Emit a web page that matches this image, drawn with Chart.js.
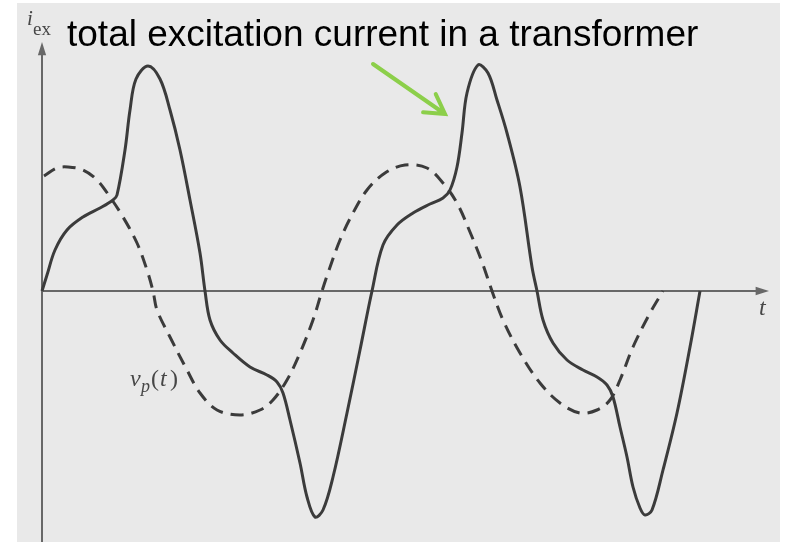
<!DOCTYPE html>
<html>
<head>
<meta charset="utf-8">
<script src="https://cdn.jsdelivr.net/npm/chart.js@4.4.0/dist/chart.umd.min.js"></script>
<style>
  html, body { margin: 0; padding: 0; background: #ffffff; }
  canvas { display: block; }
</style>
</head>
<body>
<canvas id="myChart" width="786" height="549"></canvas>
<script>
// total excitation current i_ex(t) (solid) and primary voltage v_p(t) (dashed)
var iexT = [0, 0.05, 0.13, 0.25, 0.41, 0.58, 0.71, 0.75, 0.83, 0.88, 0.94, 1.06, 1.18, 1.28, 1.38, 1.48, 1.58, 1.63,
  1.68, 1.78, 1.91, 2.08, 2.25, 2.35, 2.41, 2.48, 2.58, 2.65, 2.73, 2.81, 2.91, 3.05, 3.18, 3.30,
  3.41, 3.55, 3.71, 3.88, 4.01, 4.08, 4.15, 4.20, 4.25, 4.36, 4.46, 4.55, 4.65, 4.78, 4.90, 4.95,
  5.01, 5.11, 5.25, 5.41, 5.55, 5.65, 5.71, 5.78, 5.85, 5.91, 5.98, 6.03, 6.10, 6.21, 6.35, 6.48, 6.58];
var iexVal = [0, 0.16, 0.41, 0.61, 0.74, 0.83, 0.91, 0.96, 1.41, 1.81, 2.12, 2.25, 2.12, 1.81, 1.41, 0.91, 0.38, 0,
  -0.29, -0.49, -0.62, -0.76, -0.84, -0.91, -1.02, -1.29, -1.72, -2.06, -2.26, -2.19, -1.86, -1.22, -0.59, 0,
  0.46, 0.66, 0.78, 0.87, 0.93, 1.01, 1.24, 1.58, 1.98, 2.26, 2.18, 1.91, 1.58, 1.04, 0.24, 0,
  -0.29, -0.52, -0.69, -0.79, -0.86, -0.94, -1.06, -1.36, -1.66, -1.96, -2.17, -2.24, -2.19, -1.79, -1.22, -0.56, 0];

var vpT = [0.02, 0.15, 0.26, 0.41, 0.55, 0.68, 0.81, 0.95, 1.05, 1.11, 1.15, 1.28, 1.45, 1.58, 1.75, 1.98, 2.18, 2.31,
  2.45, 2.58, 2.71, 2.80, 2.86, 2.98, 3.11, 3.25, 3.43, 3.63, 3.85, 4.01, 4.15, 4.28, 4.40, 4.50,
  4.61, 4.78, 4.98, 5.18, 5.38, 5.55, 5.68, 5.78, 5.91, 6.08, 6.21];
var vpVal = [1.15, 1.23, 1.24, 1.21, 1.11, 0.94, 0.74, 0.48, 0.21, 0, -0.19, -0.46, -0.79, -1.02, -1.19, -1.24, -1.19, -1.09,
  -0.89, -0.62, -0.29, 0, 0.18, 0.51, 0.78, 1.01, 1.18, 1.26, 1.23, 1.08, 0.88, 0.59, 0.29, 0,
  -0.29, -0.62, -0.92, -1.12, -1.22, -1.19, -1.09, -0.89, -0.56, -0.22, 0];

var titleText = "total excitation current in a transformer";
var curveColor = "#3b3b3b";
var axisColor = "#686868";
var labelColor = "#474747";

function toPoints(xs, ys) {
  var out = [];
  for (var k = 0; k < xs.length; k++) out.push({ x: xs[k], y: ys[k] });
  return out;
}

function arrowHead(c, x1, y1, x2, y2, len, spread) {
  var a = Math.atan2(y2 - y1, x2 - x1);
  c.beginPath();
  c.moveTo(x2, y2);
  c.lineTo(x2 - len * Math.cos(a - spread), y2 - len * Math.sin(a - spread));
  c.lineTo(x2 - len * Math.cos(a + spread), y2 - len * Math.sin(a + spread));
  c.closePath();
  c.fill();
}

var figurePlugin = {
  id: 'figure',
  beforeDraw: function(chart) {
    var c = chart.ctx;
    c.save();
    c.fillStyle = "#ffffff";
    c.fillRect(0, 0, chart.width, chart.height);
    c.fillStyle = "#e9e9e9";
    c.fillRect(17, 3, 763, 539);
    c.restore();
  },
  beforeDatasetsDraw: function(chart) {
    var c = chart.ctx;
    var xs = chart.scales.x, ys = chart.scales.y;
    var x0 = xs.getPixelForValue(0), y0 = ys.getPixelForValue(0);
    var xEnd = xs.getPixelForValue(7.27);
    var yTop = ys.getPixelForValue(2.49), yBot = ys.getPixelForValue(-2.51);
    c.save();
    c.strokeStyle = axisColor;
    c.fillStyle = axisColor;
    c.lineWidth = 2;
    // t axis
    c.beginPath();
    c.moveTo(x0, y0);
    c.lineTo(xEnd - 10, y0);
    c.stroke();
    arrowHead(c, x0, y0, xEnd, y0, 14, 0.3);
    // i_ex axis
    c.beginPath();
    c.moveTo(x0, yBot);
    c.lineTo(x0, yTop + 10);
    c.stroke();
    arrowHead(c, x0, yBot, x0, yTop, 14, 0.3);
    c.restore();
  },
  afterDraw: function(chart) {
    var c = chart.ctx;
    var xs = chart.scales.x, ys = chart.scales.y;
    c.save();
    // title
    c.fillStyle = "#000000";
    c.font = "37px 'Liberation Sans', Arial, sans-serif";
    c.textBaseline = "alphabetic";
    c.fillText(titleText, 67, 46);

    // axis labels, serif like the textbook
    c.fillStyle = labelColor;
    c.font = "italic 21px 'Liberation Serif', 'Times New Roman', serif";
    c.fillText("i", 27, 25);
    c.font = "19px 'Liberation Serif', 'Times New Roman', serif";
    c.fillText("ex", 33, 35);

    c.font = "italic 24px 'Liberation Serif', 'Times New Roman', serif";
    c.fillText("t", 759, 315);

    c.font = "italic 24px 'Liberation Serif', 'Times New Roman', serif";
    c.fillText("v", 130, 386);
    c.font = "italic 18px 'Liberation Serif', 'Times New Roman', serif";
    c.fillText("p", 141, 392);
    c.font = "24px 'Liberation Serif', 'Times New Roman', serif";
    c.fillText("(", 151, 386);
    c.font = "italic 24px 'Liberation Serif', 'Times New Roman', serif";
    c.fillText("t", 160, 386);
    c.font = "24px 'Liberation Serif', 'Times New Roman', serif";
    c.fillText(")", 170, 386);

    // green pointer to the excitation current curve
    var ax1 = xs.getPixelForValue(3.31), ay1 = ys.getPixelForValue(2.27);
    var ax2 = xs.getPixelForValue(4.03), ay2 = ys.getPixelForValue(1.77);
    var ang = Math.atan2(ay2 - ay1, ax2 - ax1);
    c.strokeStyle = "#8ccf4a";
    c.lineWidth = 4;
    c.lineCap = "round";
    c.beginPath();
    c.moveTo(ax1, ay1);
    c.lineTo(ax2, ay2);
    c.moveTo(ax2 - 22 * Math.cos(ang - 0.53), ay2 - 22 * Math.sin(ang - 0.53));
    c.lineTo(ax2, ay2);
    c.lineTo(ax2 - 22 * Math.cos(ang + 0.53), ay2 - 22 * Math.sin(ang + 0.53));
    c.stroke();
    c.restore();
  }
};

var ctx = document.getElementById("myChart");

var myChart = new Chart(ctx, {
  type: 'line',
  data: {
    datasets: [{
      label: "i_ex",
      data: toPoints(iexT, iexVal),
      borderColor: curveColor,
      borderWidth: 3,
      pointRadius: 0,
      tension: 0.35,
      fill: false
    }, {
      label: "v_p(t)",
      data: toPoints(vpT, vpVal),
      borderColor: curveColor,
      borderWidth: 3,
      borderDash: [13, 8],
      pointRadius: 0,
      tension: 0.35,
      fill: false
    }]
  },
  options: {
    responsive: false,
    animation: false,
    devicePixelRatio: 1,
    layout: { padding: 0 },
    plugins: {
      legend: { display: false },
      tooltip: { enabled: false }
    },
    scales: {
      x: { type: 'linear', min: -0.42, max: 7.44, display: false },
      y: { type: 'linear', min: -2.58, max: 2.91, display: false }
    }
  },
  plugins: [figurePlugin]
});
</script>
</body>
</html>
